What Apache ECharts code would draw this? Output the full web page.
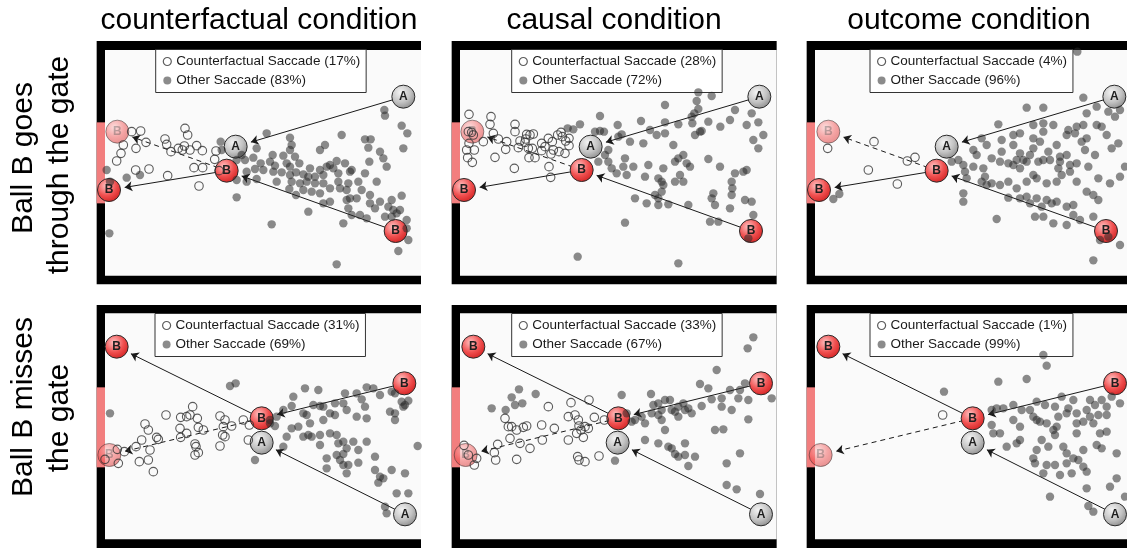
<!DOCTYPE html>
<html><head><meta charset="utf-8">
<script src="https://cdn.jsdelivr.net/npm/echarts/dist/echarts.min.js"></script>
<style>html,body{margin:0;padding:0;background:#fff}#c{width:1127px;height:548px}</style>
</head><body><div id="c"></div>
<script>
// ---------------- DATA (positions, 3 units = 1 px) ----------------
const COL_TITLES = ['counterfactual condition', 'causal condition', 'outcome condition'];
const ROW_TITLES = [['Ball B goes', 'through the gate'], ['Ball B misses', 'the gate']];
const CF_PCT = [17, 28, 4, 31, 33, 1];
const OTHER_PCT = [83, 72, 96, 69, 67, 99];
const BALL_LETTERS = ['A', 'A', 'B', 'B', 'B', 'B']; // A start, A collision, B start, B collision, B outcome, B counterfactual

const BALLS_1 = [[940,185],[437,335],[917,588],[410,407],[57,465],[82,290]];
const BALLS_2 = [[943,185],[437,335],[918,588],[410,405],[57,465],[82,290]];
const BALLS_3 = [[943,185],[440,335],[918,588],[410,407],[57,465],[85,290]];
const BALLS_4 = [[945,643],[515,428],[943,250],[515,355],[80,140],[58,465]];
const BALLS_5 = [[948,643],[518,428],[948,250],[520,355],[85,140],[62,465]];
const BALLS_6 = [[945,643],[518,428],[945,250],[518,355],[85,140],[62,465]];

const CF_1 = [[125,290],[152,288],[100,330],[138,340],[168,322],[93,355],[80,378],[225,312],[230,328],[243,350],[265,340],[277,345],[285,280],[293,300],[300,345],[283,333],[320,332],[337,347],[378,348],[374,373],[312,398],[338,398],[233,422],[137,405],[177,402],[327,453],[387,407]];
const OTHER_1 = [[883,225],[885,242],[935,272],[952,295],[530,295],[600,308],[755,300],
[825,313],[842,313],[392,320],[705,330],[690,345],[605,330],[835,338],[940,340],[500,340],
[600,345],[615,365],[870,350],[880,370],[455,360],[490,368],[548,360],[580,362],[740,378],[720,390],[765,385],[838,380],[395,345],
[440,375],[465,375],[512,385],[540,380],[555,392],[590,385],[600,395],[628,385],[660,400],[690,405],[710,395],[730,400],[780,410],[890,395],
[470,410],[495,402],[520,405],[550,410],[575,412],[600,420],[618,412],[640,418],[655,425],[675,425],[700,420],[745,415],[785,405],[825,415],[50,405],[110,428],[150,420],
[440,435],[470,440],[500,432],[560,440],[605,440],[630,445],[650,440],[675,445],[700,445],[745,440],[775,445],[805,440],[860,440],[60,440],
[440,487],[598,462],[618,480],[640,465],[665,470],[690,475],[720,460],[750,460],[770,465],[815,465],[840,480],[905,495],[935,482],[780,490],
[700,505],[720,500],[770,495],[800,490],[840,505],[855,520],[870,500],[895,515],[910,525],[930,525],[655,530],[775,520],
[785,540],[810,540],[830,550],[885,545],[905,545],[950,555],[920,535],
[545,568],[760,565],[950,580],[955,615],[58,595],[925,648],[740,688]];

const CF_2 = [[72,238],[138,245],[135,268],[210,268],[210,290],[245,298],[255,300],[265,297],[242,312],[225,318],[160,312],[145,295],[115,320],[85,300],[70,290],[72,325],[65,345],[88,345],[68,368],[82,382],[150,367],[185,320],[182,343],[220,338],[240,322],[250,340],[262,340],[270,368],[252,368],[290,325],[300,335],[310,310],[322,320],[338,300],[348,292],[352,305],[362,318],[372,310],[372,332],[360,355],[342,350],[325,345],[318,357],[312,395],[317,427],[208,400],[290,347],[80,292]];
const OTHER_2 = [[760,172],[800,183],[755,198],
[660,210],[760,222],[748,235],[740,245],[870,225],[920,235],[855,255],
[465,243],[405,268],[518,270],[588,258],[660,262],[700,268],[742,265],[940,262],[905,270],[826,275],[790,260],[765,290],
[385,283],[368,280],[450,290],[465,288],[477,290],[530,298],[615,285],[635,300],[660,295],[750,300],[770,288],[955,300],
[555,320],[595,325],[685,330],[925,315],[940,340],[520,305],
[490,345],[480,360],[540,370],[690,380],[700,370],[715,360],[790,372],[460,380],[490,380],
[500,400],[515,415],[535,395],[545,420],[565,395],[610,390],[655,400],[725,385],[735,395],[705,420],[825,395],[870,415],[895,410],[905,405],
[600,425],[640,430],[650,440],[655,450],[690,440],[715,440],[860,440],[862,460],
[860,480],[805,475],[800,490],[810,510],[855,520],[900,495],[920,500],[570,490],[605,505],[630,480],[640,490],[640,510],[670,508],[730,510],[650,470],
[925,540],[795,560],[820,560],[540,563],[910,610],[398,665],[700,685]];

const CF_3 = [[83,340],[222,320],[205,405],[292,447],[322,378],[345,367]];
const OTHER_3 = [[832,50],[850,188],[680,218],[730,218],[860,235],[890,215],[925,230],[945,245],[960,225],
[595,268],[700,270],[730,265],[760,270],[805,285],[830,275],[850,270],[890,270],[905,275],[640,300],[660,295],
[545,310],[605,315],[730,290],[700,310],[800,300],[825,295],[920,300],[955,325],
[520,345],[560,330],[640,330],[720,320],[770,330],[860,310],[845,320],[855,345],[935,340],
[530,360],[605,350],[660,355],[745,350],[700,340],[800,360],[780,365],[885,360],
[455,380],[475,375],[575,370],[600,380],[625,385],[640,390],[650,375],[670,375],[680,380],[690,360],[715,380],[730,375],[750,375],[780,380],[830,385],[810,390],
[490,390],[495,410],[520,395],[550,400],[660,400],[775,400],[865,395],[975,395],
[500,430],[555,425],[545,440],[560,450],[575,445],[600,450],[625,440],[680,440],[700,420],[710,430],[740,445],[770,440],[785,420],[810,410],[830,440],[895,430],[930,445],[960,425],
[650,460],[860,470],[880,480],[100,492],[118,477],
[490,475],[490,500],[625,488],[660,490],[680,485],[690,505],[710,490],[725,515],[740,495],[755,505],[770,500],[800,515],[820,510],[895,495],
[590,552],[705,545],[730,545],[820,540],[800,570],[760,565],[840,555],[880,545],
[900,615],[925,605],[960,630],[880,676]];

const CF_4 = [[45,478],[82,448],[85,490],[103,455],[138,440],[155,420],[165,372],[175,390],[180,450],[175,480],[148,485],[190,515],[200,412],[205,418],[228,345],[272,352],[290,350],[300,345],[308,320],[322,355],[270,385],[290,400],[272,412],[325,382],[340,390],[315,432],[318,440],[325,458],[315,465],[390,348],[405,360],[400,380],[425,378],[398,405],[405,410],[390,438],[460,360],[478,375],[475,420]];
const OTHER_4 = [[60,340],[420,258],[437,250],[495,480],
[605,318],[610,290],[645,265],[685,270],[765,280],[800,280],[815,298],[830,262],[850,265],[870,285],[905,275],[915,280],[935,305],[945,315],[955,302],
[580,330],[640,340],[650,345],[690,318],[670,315],[700,320],[735,310],[760,310],[770,330],[825,320],[900,335],[915,340],[940,320],
[560,350],[540,360],[540,370],[555,378],[660,370],[700,360],[720,340],[735,345],[800,350],[830,355],[915,360],
[605,385],[625,380],[590,410],[640,410],[655,405],[665,410],[690,405],[720,400],[740,405],[760,425],[790,425],[830,425],
[580,440],[690,435],[745,430],[770,445],[805,450],[983,438],
[740,465],[760,462],[855,470],[710,475],[750,480],[760,495],[775,495],[805,488],
[710,505],[770,520],[855,510],[905,510],[945,520],[870,530],[880,535],[865,548],
[920,580],[955,580],[885,620],[890,640]];

const CF_5 = [[57,436],[70,465],[95,475],[88,495],[148,458],[152,480],[158,433],[180,355],[190,380],[200,380],[215,390],[195,415],[225,430],[215,478],[235,382],[245,378],[255,445],[290,375],[292,420],[310,320],[328,385],[370,350],[378,308],[390,345],[400,360],[402,378],[408,390],[395,400],[420,380],[432,300],[430,385],[448,352],[415,412],[370,420],[398,470],[402,480],[420,485],[462,468],[478,360]];
const OTHER_5 = [[140,325],[182,330],[200,292],[210,315],[222,268],[232,310],[272,282],[530,285],[510,482],[600,420],
[618,282],[625,315],[640,310],[650,330],[660,300],[675,300],[680,330],[690,335],[700,320],[715,310],[720,330],[740,340],[730,325],[770,318],
[765,252],[790,265],[800,298],[815,210],[830,295],[830,320],[860,330],[855,270],[880,295],[885,270],[900,250],[910,300],[925,112],[908,145],[980,295],
[590,350],[600,370],[570,360],[560,365],[545,340],[640,345],[620,340],[650,360],[700,350],
[660,390],[640,430],[670,440],[680,445],[690,462],[700,470],[720,430],[720,465],[750,470],[730,498],
[810,390],[835,388],[845,490],[885,460],[910,358],[845,555],[875,568],[945,582]];

const CF_6 = [[428,345]];
const OTHER_6 = [[432,275],[595,245],[680,237],[730,165],[740,197],
[575,330],[590,325],[610,325],[640,315],[665,330],[690,330],[710,305],[735,315],[765,320],[785,290],[805,325],[820,300],[830,340],[860,330],[870,300],[885,315],[905,300],[920,320],[935,290],[960,310],
[920,345],[895,345],[870,350],[850,365],[830,370],[800,340],[775,350],[760,390],[765,405],[770,380],[740,370],[720,365],[700,350],[710,360],[660,380],[640,360],[600,400],[580,400],[575,375],
[620,440],[650,430],[660,420],[725,420],[710,450],[745,440],[790,440],[800,460],[830,400],[850,450],[880,370],[900,400],[920,395],[890,435],[905,445],[950,460],
[700,475],[705,490],[740,495],[765,495],[800,490],[820,475],[835,480],[850,500],[730,520],[780,525],[815,520],[860,515],[860,565],[950,535],[975,590],[750,590],[865,618],[880,635],[930,560]];

const CF = [CF_1, CF_2, CF_3, CF_4, CF_5, CF_6];
const OTHER = [OTHER_1, OTHER_2, OTHER_3, OTHER_4, OTHER_5, OTHER_6];
const BALLS = [BALLS_1, BALLS_2, BALLS_3, BALLS_4, BALLS_5, BALLS_6];

// ---------------- LAYOUT ----------------
const FONT = "'Liberation Sans', Arial, Helvetica, sans-serif";
const UNIT = 3;                       // data units per pixel
const ORIGINS = [[90,35],[445,35],[800,35],[90,300],[445,300],[800,300]];
const X_OUTER = 20, X_INNER = 45, X_RIGHT = [993, 995, 981];
const Y_FRAME = [[18,45,722,748],[15,40,718,744]];
const GATE = [[262,505],[262,502]];
const LEGEND_POS = [[155.7,49.5],[511.7,49.5],[870,49.5],[155,313.5],[511.7,313.5],[870,313.5]];
const BALL_SIZE = 23;
const ARROW_SIZE = 7.5;
const SHORTEN = BALL_SIZE / 2 * UNIT + ARROW_SIZE / 2 * UNIT + 2;
const DOT_COLOR = 'rgba(40,40,40,0.68)';

function shortened(from, to) {
  const dx = to[0] - from[0], dy = to[1] - from[1];
  const L = Math.hypot(dx, dy);
  return [from, [to[0] - dx / L * SHORTEN, to[1] - dy / L * SHORTEN]];
}

const grayBall = {type:'radial', x:0.38, y:0.32, r:0.75, colorStops:[{offset:0,color:'#f4f4f4'},{offset:0.55,color:'#c4c4c4'},{offset:1,color:'#888888'}]};
const redBall = {type:'radial', x:0.38, y:0.32, r:0.75, colorStops:[{offset:0,color:'#ffc0c0'},{offset:0.55,color:'#f05050'},{offset:1,color:'#d01e1e'}]};

const grids = [], xAxes = [], yAxes = [], series = [], legends = [];
for (let i = 0; i < 6; i++) {
  const r = Math.floor(i / 3), c = i % 3;
  const [ox, oy] = ORIGINS[i];
  const [y0, yi0, yi1, y1] = Y_FRAME[r];
  const x1 = X_RIGHT[c];
  grids.push({left: ox + X_OUTER / UNIT, top: oy + y0 / UNIT, width: (x1 - X_OUTER) / UNIT, height: (y1 - y0) / UNIT,
    show: true, backgroundColor: '#000', borderWidth: 0, containLabel: false, outerBoundsMode: 'none'});
  xAxes.push({gridIndex: i, type: 'value', min: X_OUTER, max: x1, show: false});
  yAxes.push({gridIndex: i, type: 'value', min: y0, max: y1, inverse: true, show: false});

  const b = BALLS[i];
  const cfName = 'Counterfactual Saccade (' + CF_PCT[i] + '%)';
  const otName = 'Other Saccade (' + OTHER_PCT[i] + '%)';

  series.push({
    type: 'lines', coordinateSystem: 'cartesian2d', xAxisIndex: i, yAxisIndex: i, z: 2, silent: true,
    symbol: ['none', 'arrow'], symbolSize: ARROW_SIZE,
    lineStyle: {color: '#1a1a1a', width: 1, opacity: 1, curveness: 0},
    data: [
      {coords: shortened(b[0], b[1])},
      {coords: shortened(b[2], b[3])},
      {coords: shortened(b[3], b[4])},
      {coords: shortened(b[3], b[5]), lineStyle: {type: [5, 4]}}
    ]
  });
  series.push({
    type: 'scatter', xAxisIndex: i, yAxisIndex: i, z: 3, silent: true, symbolSize: BALL_SIZE,
    data: b.map((p, k) => ({
      value: p, name: BALL_LETTERS[k],
      itemStyle: {color: k < 2 ? grayBall : redBall, borderColor: '#2a2a2a', borderWidth: 1, opacity: k === 5 ? 0.5 : 1},
      label: {color: k === 5 ? 'rgba(80,80,80,0.75)' : '#1e1e1e'}
    })),
    label: {show: true, position: 'inside', formatter: '{b}', fontSize: 12, fontWeight: 'bold', fontFamily: FONT}
  });
  series.push({
    type: 'scatter', name: otName, xAxisIndex: i, yAxisIndex: i, z: 4, silent: true, symbolSize: 8.4,
    itemStyle: {color: DOT_COLOR}, data: OTHER[i],
    markArea: {silent: true, label: {show: false},
      data: [
        [{coord: [X_INNER, yi0], itemStyle: {color: '#fafafa', opacity: 1, borderWidth: 0}}, {coord: [x1, yi1]}],
        [{coord: [X_OUTER, GATE[r][0]], itemStyle: {color: '#f27e7e', opacity: 1, borderWidth: 0}}, {coord: [X_INNER, GATE[r][1]]}]
      ]}
  });
  series.push({
    type: 'scatter', name: cfName, xAxisIndex: i, yAxisIndex: i, z: 5, silent: true, symbolSize: 8.5,
    itemStyle: {color: 'rgba(255,255,255,0)', borderColor: '#333', borderWidth: 1.1}, data: CF[i]
  });
  legends.push({
    orient: 'vertical', left: LEGEND_POS[i][0], top: LEGEND_POS[i][1], selectedMode: false,
    icon: 'circle', itemWidth: 8, itemHeight: 8, itemGap: 5, padding: [5, 6, 5, 7],
    borderColor: '#333', borderWidth: 1, borderRadius: 0, backgroundColor: '#fff',
    textStyle: {fontSize: 13.5, color: '#1a1a1a', fontFamily: FONT},
    data: [
      {name: cfName, itemStyle: {color: '#fff', borderColor: '#333', borderWidth: 1.2}},
      {name: otName, itemStyle: {color: DOT_COLOR, borderWidth: 0}}
    ]
  });
}

const TITLE_X = [259, 614, 969];
const graphics = [];
COL_TITLES.forEach((t, k) => graphics.push({type: 'text', x: TITLE_X[k], y: 21,
  style: {text: t, fill: '#000', font: '30px ' + FONT, textAlign: 'center', textVerticalAlign: 'middle'}}));
const ROW_Y = [[158, 165], [407, 418]];
const ROW_X = [24, 60];
ROW_TITLES.forEach((lines, r) => lines.forEach((t, j) => graphics.push({type: 'text', x: ROW_X[j], y: ROW_Y[r][j], rotation: Math.PI / 2,
  style: {text: t, fill: '#000', font: '30px ' + FONT, textAlign: 'center', textVerticalAlign: 'middle'}})));

const chart = echarts.init(document.getElementById('c'));
chart.setOption({
  animation: false,
  backgroundColor: '#fff',
  grid: grids, xAxis: xAxes, yAxis: yAxes,
  legend: legends, series: series, graphic: graphics
});
</script></body></html>
